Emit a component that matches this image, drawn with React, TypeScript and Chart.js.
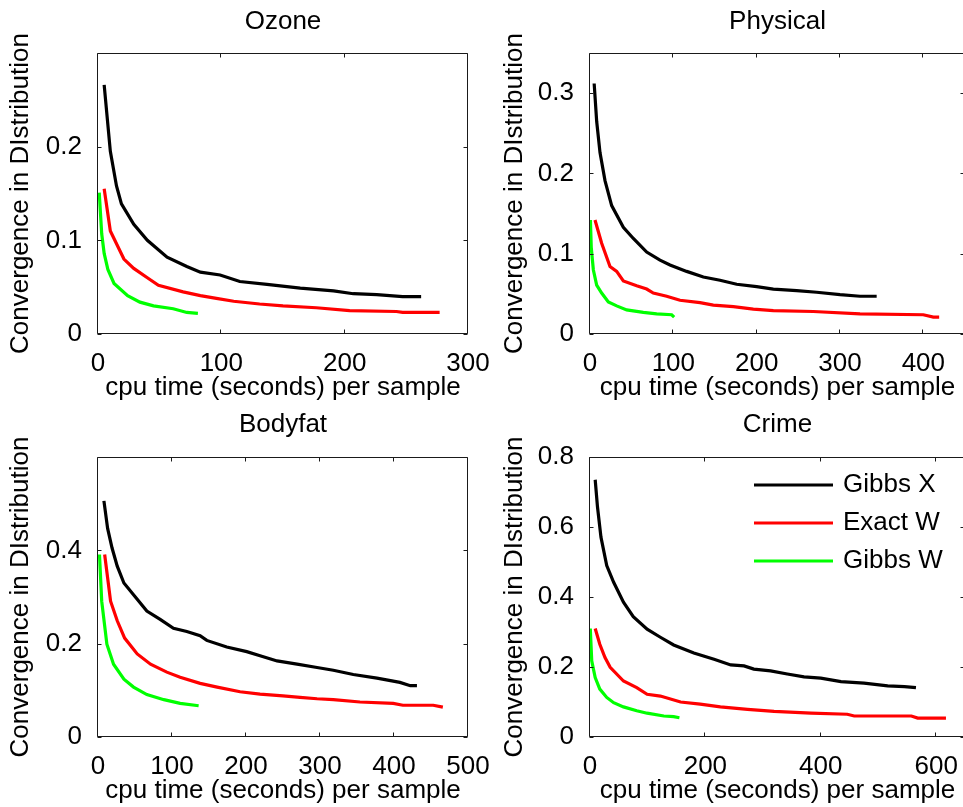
import React, { useEffect, useRef } from 'react';
import { Chart, registerables } from 'chart.js';

Chart.register(...registerables);

const FONT = "'Liberation Sans', Arial, Helvetica, sans-serif";
const FS = 26;

const SERIES_LABELS = ['Gibbs X', 'Exact W', 'Gibbs W'];
const SERIES_COLORS = ['#000000', '#ff0000', '#00ff00'];
const X_AXIS_TITLE = 'cpu time (seconds) per sample';
const Y_AXIS_TITLE = 'Convergence in DIstribution';

// ---------- Ozone ----------
const ozoneGibbsXTime = [5, 10, 15, 19, 29, 40, 56, 72, 83, 99, 115, 137, 164, 191, 207, 226, 247, 262];
const ozoneGibbsXConv = [0.266, 0.195, 0.158, 0.139, 0.117, 0.1, 0.082, 0.072, 0.066, 0.063, 0.056, 0.053, 0.049, 0.046, 0.043, 0.042, 0.04, 0.04];
const ozoneExactWTime = [5, 10, 21, 29, 40, 49, 69, 83, 96, 110, 131, 150, 177, 204, 242, 247, 277];
const ozoneExactWConv = [0.155, 0.11, 0.08, 0.07, 0.06, 0.052, 0.045, 0.041, 0.038, 0.035, 0.032, 0.03, 0.028, 0.025, 0.024, 0.023, 0.023];
const ozoneGibbsWTime = [1, 3, 5, 8, 13, 24, 34, 45, 61, 72, 81];
const ozoneGibbsWConv = [0.151, 0.107, 0.086, 0.069, 0.054, 0.041, 0.034, 0.03, 0.027, 0.023, 0.022];
const ozoneXTicks = [0, 100, 200, 300];
const ozoneYTicks = [0, 0.1, 0.2];

// ---------- Physical ----------
const physGibbsXTime = [5, 8, 12, 18, 26, 40, 52, 68, 84, 96, 116, 136, 156, 176, 200, 220, 248, 272, 300, 324, 344];
const physGibbsXConv = [0.312, 0.265, 0.226, 0.191, 0.16, 0.133, 0.119, 0.102, 0.092, 0.086, 0.078, 0.071, 0.067, 0.062, 0.059, 0.056, 0.054, 0.052, 0.049, 0.047, 0.047];
const physExactWTime = [6, 14, 24, 32, 40, 56, 68, 76, 92, 108, 132, 148, 172, 196, 220, 268, 324, 400, 412, 419];
const physExactWConv = [0.142, 0.113, 0.084, 0.078, 0.066, 0.06, 0.056, 0.051, 0.047, 0.042, 0.039, 0.036, 0.034, 0.031, 0.029, 0.028, 0.025, 0.024, 0.021, 0.021];
const physGibbsWTime = [0.5, 1.5, 4, 8, 14, 22, 32, 44, 64, 80, 98, 101];
const physGibbsWConv = [0.142, 0.108, 0.08, 0.061, 0.051, 0.04, 0.035, 0.03, 0.027, 0.025, 0.024, 0.021];
const physXTicks = [0, 100, 200, 300, 400];
const physYTicks = [0, 0.1, 0.2, 0.3];

// ---------- Bodyfat ----------
const bodyGibbsXTime = [8, 13, 19, 26, 35, 48, 66, 84, 102, 120, 138, 147, 174, 201, 219, 242, 269, 296, 318, 345, 377, 408, 422, 431];
const bodyGibbsXConv = [0.506, 0.447, 0.405, 0.366, 0.33, 0.305, 0.27, 0.252, 0.233, 0.226, 0.217, 0.207, 0.193, 0.183, 0.174, 0.163, 0.156, 0.149, 0.143, 0.134, 0.126, 0.117, 0.11, 0.11];
const bodyExactWTime = [9, 17, 26, 36, 53, 71, 93, 111, 138, 161, 192, 219, 250, 273, 296, 318, 354, 399, 412, 453, 466];
const bodyExactWConv = [0.391, 0.291, 0.249, 0.212, 0.178, 0.156, 0.139, 0.128, 0.115, 0.107, 0.097, 0.092, 0.088, 0.085, 0.082, 0.08, 0.075, 0.072, 0.068, 0.068, 0.064];
const bodyGibbsWTime = [2, 5, 12, 21, 35, 48, 66, 89, 111, 136];
const bodyGibbsWConv = [0.391, 0.291, 0.199, 0.156, 0.124, 0.107, 0.091, 0.08, 0.072, 0.067];
const bodyXTicks = [0, 100, 200, 300, 400, 500];
const bodyYTicks = [0, 0.2, 0.4];

// ---------- Crime ----------
const crimeGibbsXTime = [9, 13, 19, 29, 41, 58, 75, 99, 122, 145, 180, 215, 244, 267, 284, 313, 342, 371, 400, 435, 475, 516, 545, 565];
const crimeGibbsXConv = [0.735, 0.657, 0.571, 0.49, 0.442, 0.385, 0.344, 0.308, 0.285, 0.263, 0.24, 0.222, 0.206, 0.203, 0.194, 0.189, 0.18, 0.172, 0.168, 0.158, 0.154, 0.146, 0.144, 0.141];
const crimeExactWTime = [9, 17, 26, 35, 58, 81, 99, 122, 157, 191, 226, 273, 319, 383, 446, 458, 557, 568, 617];
const crimeExactWConv = [0.31, 0.265, 0.227, 0.199, 0.16, 0.141, 0.122, 0.117, 0.1, 0.094, 0.086, 0.079, 0.073, 0.068, 0.065, 0.06, 0.06, 0.054, 0.054];
const crimeGibbsWTime = [0.5, 3, 9, 17, 29, 41, 58, 81, 99, 128, 145, 155];
const crimeGibbsWConv = [0.31, 0.218, 0.17, 0.137, 0.113, 0.098, 0.086, 0.075, 0.068, 0.06, 0.058, 0.055];
const crimeXTicks = [0, 200, 400, 600];
const crimeYTicks = [0, 0.2, 0.4, 0.6, 0.8];

type Layout = {
  cx: number; cy: number; cw: number; ch: number; // canvas placement
  left: number; right: number; top: number; bottom: number; // chart area inside canvas
  titleCenter: number; yTitleX: number; xTitleFromBottom: number;
};

type PanelSpec = {
  title: string;
  series: { t: number[]; v: number[] }[];
  xMax: number; yMax: number;
  xTicks: number[]; yTicks: number[];
  layout: Layout;
  legend: boolean;
};

const topLeft = { cx: 0, cy: 0, cw: 500, ch: 400, left: 98, right: 468, top: 53, bottom: 334, titleCenter: 22, yTitleX: 21, xTitleFromBottom: 12.5 };
const topRight = { cx: 480, cy: 0, cw: 500, ch: 400, left: 110, right: 485, top: 53, bottom: 334, titleCenter: 22, yTitleX: 34.5, xTitleFromBottom: 12.5 };
const botLeft = { cx: 0, cy: 400, cw: 500, ch: 407, left: 98, right: 468, top: 57, bottom: 337, titleCenter: 25.3, yTitleX: 21, xTitleFromBottom: 16.5 };
const botRight = { cx: 480, cy: 400, cw: 500, ch: 407, left: 110, right: 485, top: 57, bottom: 337, titleCenter: 25.3, yTitleX: 34.5, xTitleFromBottom: 16.5 };

const PANELS: PanelSpec[] = [
  {
    title: 'Ozone',
    series: [
      { t: ozoneGibbsXTime, v: ozoneGibbsXConv },
      { t: ozoneExactWTime, v: ozoneExactWConv },
      { t: ozoneGibbsWTime, v: ozoneGibbsWConv },
    ],
    xMax: 300, yMax: 0.3, xTicks: ozoneXTicks, yTicks: ozoneYTicks, layout: topLeft, legend: false,
  },
  {
    title: 'Physical',
    series: [
      { t: physGibbsXTime, v: physGibbsXConv },
      { t: physExactWTime, v: physExactWConv },
      { t: physGibbsWTime, v: physGibbsWConv },
    ],
    xMax: 450, yMax: 0.35, xTicks: physXTicks, yTicks: physYTicks, layout: topRight, legend: false,
  },
  {
    title: 'Bodyfat',
    series: [
      { t: bodyGibbsXTime, v: bodyGibbsXConv },
      { t: bodyExactWTime, v: bodyExactWConv },
      { t: bodyGibbsWTime, v: bodyGibbsWConv },
    ],
    xMax: 500, yMax: 0.6, xTicks: bodyXTicks, yTicks: bodyYTicks, layout: botLeft, legend: false,
  },
  {
    title: 'Crime',
    series: [
      { t: crimeGibbsXTime, v: crimeGibbsXConv },
      { t: crimeExactWTime, v: crimeExactWConv },
      { t: crimeGibbsWTime, v: crimeGibbsWConv },
    ],
    xMax: 650, yMax: 0.8, xTicks: crimeXTicks, yTicks: crimeYTicks, layout: botRight, legend: true,
  },
];

const TICK_LEN = 4;

const framePlugin = {
  id: 'mlFrame',
  afterDatasetsDraw(chart: any) {
    const { ctx, chartArea, scales } = chart;
    const { left, right, top, bottom } = chartArea;
    const x = scales.x;
    const y = scales.y;
    ctx.save();
    ctx.strokeStyle = '#1a1a1a';
    ctx.lineWidth = 1;
    const l = Math.round(left) - 0.5;
    const r = Math.round(right) - 0.5;
    const t = Math.round(top) + 0.5;
    const b = Math.round(bottom) - 0.5;
    ctx.beginPath();
    ctx.rect(l, t, r - l, b - t);
    x.ticks.forEach((tk: any) => {
      const px = Math.round(x.getPixelForValue(tk.value)) - 0.5;
      ctx.moveTo(px, b); ctx.lineTo(px, b - TICK_LEN);
      ctx.moveTo(px, t); ctx.lineTo(px, t + TICK_LEN);
    });
    y.ticks.forEach((tk: any) => {
      const py = Math.round(y.getPixelForValue(tk.value)) + 0.5;
      ctx.moveTo(l, py); ctx.lineTo(l + TICK_LEN, py);
      ctx.moveTo(r, py); ctx.lineTo(r - TICK_LEN, py);
    });
    ctx.stroke();
    ctx.restore();
  },
};

const legendPlugin = {
  id: 'mlLegend',
  afterDraw(chart: any, _args: any, opts: any) {
    if (!opts || !opts.show) return;
    const { ctx, chartArea } = chart;
    ctx.save();
    ctx.font = `${FS}px ${FONT}`;
    ctx.textBaseline = 'middle';
    ctx.textAlign = 'left';
    ctx.fillStyle = '#000';
    chart.data.datasets.forEach((ds: any, i: number) => {
      const yy = chartArea.top + opts.top + i * opts.rowGap;
      const x0 = chartArea.left + opts.lineStart;
      ctx.strokeStyle = ds.borderColor;
      ctx.lineWidth = 3;
      ctx.beginPath();
      ctx.moveTo(x0, yy);
      ctx.lineTo(x0 + opts.lineLen, yy);
      ctx.stroke();
      ctx.fillText(ds.label, x0 + opts.lineLen + opts.gap, yy);
    });
    ctx.restore();
  },
};

function Panel({ spec }: { spec: PanelSpec }) {
  const ref = useRef<HTMLCanvasElement | null>(null);
  useEffect(() => {
    const canvas = ref.current;
    if (!canvas) return;
    const L = spec.layout;
    const font = { family: FONT, size: FS, lineHeight: 1 };
    const titlePadTop = L.titleCenter - FS / 2;
    const titlePadBottom = L.top - titlePadTop - FS;
    const chart = new Chart(canvas, {
      type: 'line',
      data: {
        datasets: spec.series.map((s, i) => ({
          label: SERIES_LABELS[i],
          data: s.t.map((tv, j) => ({ x: tv, y: s.v[j] })),
          borderColor: SERIES_COLORS[i],
          backgroundColor: SERIES_COLORS[i],
          borderWidth: 3.2,
          pointRadius: 0,
          tension: 0,
          fill: false,
        })),
      },
      options: {
        responsive: false,
        animation: false,
        events: [],
        layout: { padding: { left: 0, top: 0, right: L.cw - L.right, bottom: 0 } },
        plugins: {
          legend: { display: false },
          tooltip: { enabled: false },
          title: {
            display: true,
            text: spec.title,
            fullSize: false,
            color: '#000',
            font: { ...font, weight: 'normal' },
            padding: { top: titlePadTop, bottom: titlePadBottom },
          },
          mlLegend: { show: spec.legend, top: 28, rowGap: 38, lineStart: 164, lineLen: 79, gap: 10 },
        } as any,
        scales: {
          x: {
            type: 'linear',
            min: 0,
            max: spec.xMax,
            grid: { display: false },
            border: { display: false },
            ticks: {
              font,
              color: '#000',
              padding: 9,
              maxRotation: 0,
              autoSkip: false,
              callback: (v: any) => String(v),
            },
            title: {
              display: true,
              text: X_AXIS_TITLE,
              color: '#000',
              font,
              padding: { top: 0, bottom: L.xTitleFromBottom - FS / 2 },
            },
            afterBuildTicks: (s: any) => {
              s.ticks = spec.xTicks.map((v) => ({ value: v }));
            },
            afterFit: (s: any) => {
              s.height = L.ch - L.bottom;
              s.paddingLeft = 0;
              s.paddingRight = 0;
            },
          },
          y: {
            type: 'linear',
            min: 0,
            max: spec.yMax,
            grid: { display: false },
            border: { display: false },
            ticks: {
              font,
              color: '#000',
              padding: 8,
              autoSkip: false,
              callback: (v: any) => String(v),
            },
            title: {
              display: true,
              text: Y_AXIS_TITLE,
              color: '#000',
              font,
              padding: { top: L.yTitleX - FS / 2, bottom: 0 },
            },
            afterBuildTicks: (s: any) => {
              s.ticks = spec.yTicks.map((v) => ({ value: v }));
            },
            afterFit: (s: any) => {
              s.width = L.left;
              s.paddingTop = 0;
              s.paddingBottom = 0;
            },
          },
        },
      } as any,
      plugins: [framePlugin, legendPlugin],
    });
    return () => chart.destroy();
  }, [spec]);
  const L = spec.layout;
  return (
    <canvas
      ref={ref}
      width={L.cw}
      height={L.ch}
      style={{ position: 'absolute', left: L.cx, top: L.cy, width: L.cw, height: L.ch }}
    />
  );
}

export default function App() {
  return (
    <div
      style={{
        position: 'fixed',
        left: 0,
        top: 0,
        width: 963,
        height: 807,
        overflow: 'hidden',
        background: '#ffffff',
      }}
    >
      {PANELS.map((p) => (
        <Panel key={p.title} spec={p} />
      ))}
    </div>
  );
}
